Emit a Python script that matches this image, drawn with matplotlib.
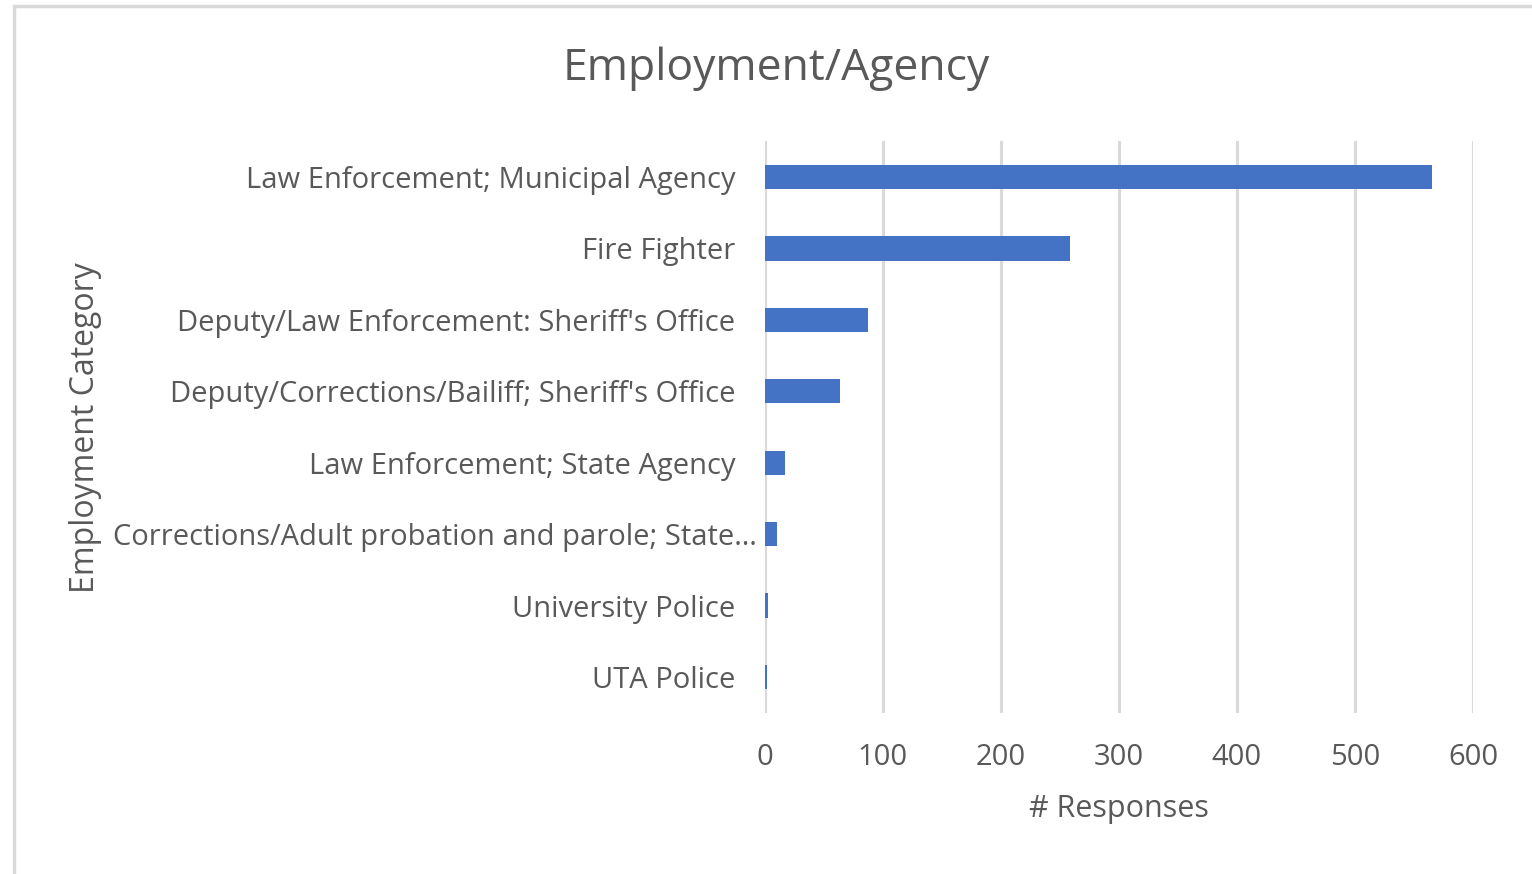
import matplotlib.pyplot as plt
import matplotlib.transforms as mtransforms
from matplotlib.patches import Rectangle

categories = [
    "Law Enforcement; Municipal Agency",
    "Fire Fighter",
    "Deputy/Law Enforcement: Sheriff's Office",
    "Deputy/Corrections/Bailiff; Sheriff's Office",
    "Law Enforcement; State Agency",
    "Corrections/Adult probation and parole; State\u2026",
    "University Police",
    "UTA Police",
]
responses = [565, 259, 88, 64, 17, 11, 3, 2]
x_ticks = [0, 100, 200, 300, 400, 500, 600]

text_color = "#595959"
grid_color = "#D9D9D9"
bar_color = "#4472C4"

plt.rcParams['font.family'] = ['Open Sans', 'DejaVu Sans']

fig = plt.figure(figsize=(15.32, 8.74), dpi=100)
W, H = 1532, 874
ax = fig.add_axes([764.5 / W, 1 - 712.7 / H, (1473 - 764.5) / W, (712.7 - 141.3) / H])

ypos = list(range(len(categories)))
ax.barh(ypos, responses, height=0.34, color=bar_color, zorder=3)
ax.set_ylim(len(categories) - 0.5, -0.5)
ax.set_xlim(0, 600)
ax.set_xticks(x_ticks)
ax.set_yticks(ypos)
ax.set_yticklabels(categories)

ax.grid(axis='x', color=grid_color, linewidth=2.2, zorder=0)
for side in ['top', 'right', 'bottom', 'left']:
    ax.spines[side].set_visible(False)
ax.tick_params(axis='both', length=0, labelsize=21, colors=text_color)
ax.tick_params(axis='y', pad=21)
ax.tick_params(axis='x', pad=22)

# the long truncated label sits a little further right
lbl = ax.get_yticklabels()[5]
lbl.set_transform(lbl.get_transform() + mtransforms.ScaledTranslation(22 / 100, 0, fig.dpi_scale_trans))

ax.set_xlabel("# Responses", fontsize=22, color=text_color, labelpad=16)
fig.text(86 / W, 1 - 428 / H, "Employment Category", rotation=90, fontsize=23,
         color=text_color, ha='center', va='center')
fig.text(776 / W, 1 - 69 / H, "Employment/Agency", fontsize=32, color=text_color,
         ha='center', va='center')

# chart frame
fig.patches.append(Rectangle((13.5 / W, -0.1), 1.2, 1.1 - 5.5 / H, transform=fig.transFigure,
                             fill=False, edgecolor=grid_color, linewidth=2.5))

fig.savefig("out.png", dpi=100)
